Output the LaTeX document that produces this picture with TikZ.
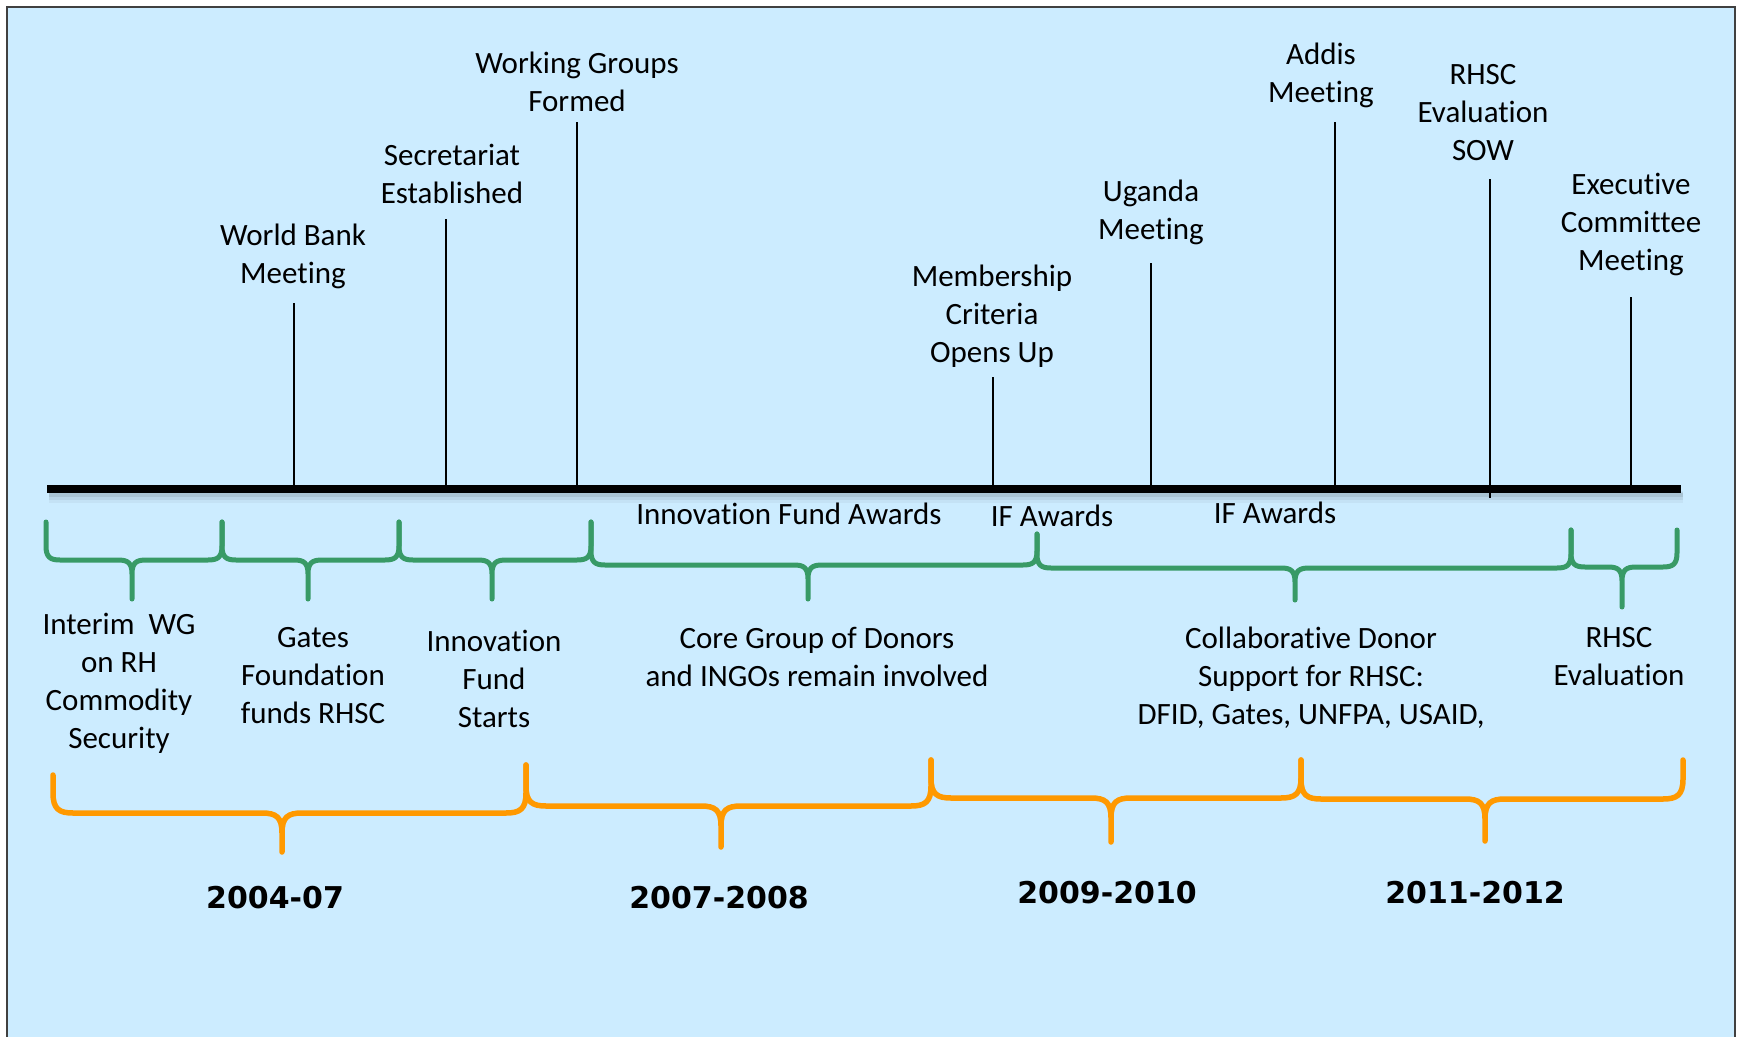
\documentclass[tikz,border=0pt]{standalone}
\usepackage{fontspec}
\setmainfont[Ligatures=NoCommon]{Carlito}
\newfontfamily\yearfont{DejaVu Sans}
\definecolor{bgblue}{RGB}{204,236,255}
\definecolor{brgreen}{RGB}{56,154,102}
\definecolor{brorange}{RGB}{255,153,0}
% style, xL, xR, xm, tL, tR, h, b, r
\newcommand\tlbrace[9]{%
  \draw[#1] (#2,#5) -- (#2,#7-#9) .. controls (#2,#7-0.2*#9) and (#2+0.3*#9,#7) .. (#2+#9,#7)
     -- (#4-#9,#7) .. controls (#4-0.3*#9,#7) and (#4,#7+0.2*#9) .. (#4,#7+#9) -- (#4,#8)
     -- (#4,#7+#9) .. controls (#4,#7+0.2*#9) and (#4+0.3*#9,#7) .. (#4+#9,#7)
     -- (#3-#9,#7) .. controls (#3-0.3*#9,#7) and (#3,#7-0.2*#9) .. (#3,#7-#9) -- (#3,#6);}
\begin{document}
\begin{tikzpicture}[x=1pt,y=-1pt,
  lbl/.style={align=center, inner sep=0pt, font=\fontsize{31}{38}\selectfont},
  yr/.style={inner sep=0pt, font=\yearfont\bfseries\fontsize{30}{36}\selectfont},
  tickline/.style={line width=1.6pt},
  gbr/.style={brgreen, line width=5pt, line join=round, line cap=round},
  obr/.style={brorange, line width=5.5pt, line join=round, line cap=round}]
\useasboundingbox (0,0) rectangle (1740,1036);
\draw[fill=bgblue, draw=black!75, line width=2pt] (7,7) rectangle (1735,1050);

% timeline
\coordinate (tlL) at (47,489);
\coordinate (tlR) at (1681,489);
\draw[line width=12pt, black, opacity=0.04] (49,497) -- (1683,497);
\draw[line width=8pt, black, opacity=0.06] (49,496) -- (1683,496);
\draw[line width=4pt, black, opacity=0.08] (49,495) -- (1683,495);
\draw[line width=8pt] (tlL) -- (tlR);

% ticks
\draw[tickline] (294,303) coordinate (wbTop) -- (294,489) coordinate (wbBase);
\draw[tickline] (446,219) coordinate (seTop) -- (446,489) coordinate (seBase);
\draw[tickline] (577,122) coordinate (wgTop) -- (577,489) coordinate (wgBase);
\draw[tickline] (993,377) coordinate (mcTop) -- (993,489) coordinate (mcBase);
\draw[tickline] (1151,263) coordinate (ugTop) -- (1151,489) coordinate (ugBase);
\draw[tickline] (1335,122) coordinate (adTop) -- (1335,489) coordinate (adBase);
\draw[tickline] (1490,179) coordinate (swTop) -- (1490,498) coordinate (swBase);
\draw[tickline] (1631,297) coordinate (ecTop) -- (1631,489) coordinate (ecBase);

% labels above
\node[lbl] (wb) at (293,256) {World Bank\\Meeting};
\node[lbl] (se) at (452,174) {Secretariat\\Established};
\node[lbl] (wg) at (577,82) {Working Groups\\Formed};
\node[lbl] (mc) at (992,316) {Membership\\Criteria\\Opens Up};
\node[lbl] (ug) at (1151,212) {Uganda\\Meeting};
\node[lbl] (ad) at (1321,75) {Addis\\Meeting};
\node[lbl] (sw) at (1483,113) {RHSC\\Evaluation\\SOW};
\node[lbl] (ec) at (1631,224) {Executive\\Committee\\Meeting};

% award labels
\node[lbl] (ifa1) at (789,514) {Innovation Fund Awards};
\node[lbl] (ifa2) at (1052,516) {IF Awards};
\node[lbl] (ifa3) at (1275,513) {IF Awards};

% green braces
\tlbrace{gbr}{46}{222}{132}{522}{522}{560}{599}{14}
\tlbrace{gbr}{222}{399}{308}{522}{522}{560}{599}{14}
\tlbrace{gbr}{399}{591}{492}{522}{522}{560}{599}{14}
\tlbrace{gbr}{591}{1037}{808}{522}{534}{565}{599}{14}
\tlbrace{gbr}{1037}{1571}{1295}{534}{530}{568}{600}{14}
\tlbrace{gbr}{1571}{1677}{1622}{530}{530}{567}{607}{14}

% labels under green braces
\node[lbl] (iw) at (119,683) {Interim~~WG\\on RH\\Commodity\\Security};
\node[lbl] (gf) at (313,676) {Gates\\Foundation\\funds RHSC};
\node[lbl] (ifs) at (494,679) {Innovation\\Fund\\Starts};
\node[lbl] (cg) at (817,657) {Core Group of Donors\\and INGOs remain involved};
\node[lbl] (cd) at (1311,678) {Collaborative Donor\\Support for RHSC:\\DFID, Gates, UNFPA, USAID,};
\node[lbl] (re) at (1619,657) {RHSC\\Evaluation};

% orange braces
\tlbrace{obr}{53}{526}{282}{775}{765}{813}{852}{20}
\tlbrace{obr}{526}{931}{721}{765}{760}{806}{847}{20}
\tlbrace{obr}{931}{1301}{1111}{760}{760}{798}{842}{20}
\tlbrace{obr}{1301}{1683}{1485}{760}{760}{799}{841}{20}

% years
\node[yr] (y1) at (275,898) {2004-07};
\node[yr] (y2) at (719,898) {2007-2008};
\node[yr] (y3) at (1107,893) {2009-2010};
\node[yr] (y4) at (1475,893) {2011-2012};
\end{tikzpicture}
\end{document}
